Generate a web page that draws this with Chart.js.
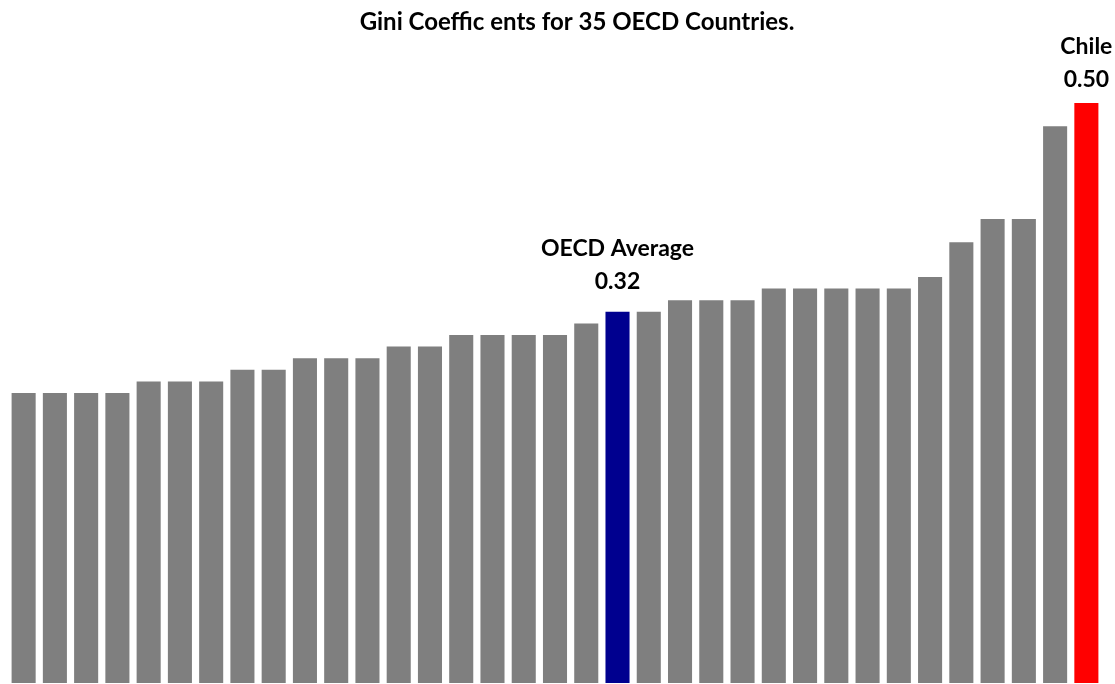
<!DOCTYPE html>
<html>
<head>
<meta charset="utf-8">
<script src="https://cdn.jsdelivr.net/npm/chart.js@4"></script>
<style>
  html, body { margin: 0; padding: 0; background: #fff; }
  #wrap { width: 1115px; height: 684px; }
</style>
</head>
<body>
<div id="wrap"><canvas id="c" width="1115" height="684"></canvas></div>
<script>
const chartTitle = 'Gini Coeffic ents for 35 OECD Countries.';
const categories = [
  'Country 1','Country 2','Country 3','Country 4','Country 5','Country 6','Country 7',
  'Country 8','Country 9','Country 10','Country 11','Country 12','Country 13','Country 14',
  'Country 15','Country 16','Country 17','Country 18','Country 19','OECD Average','Country 20',
  'Country 21','Country 22','Country 23','Country 24','Country 25','Country 26','Country 27',
  'Country 28','Country 29','Country 30','Country 31','Country 32','Country 33','Chile'
];
const giniValues = [
  0.25,0.25,0.25,0.25,0.26,0.26,0.26,
  0.27,0.27,0.28,0.28,0.28,0.29,0.29,
  0.30,0.30,0.30,0.30,0.31,0.32,0.32,
  0.33,0.33,0.33,0.34,0.34,0.34,0.34,
  0.34,0.35,0.38,0.40,0.40,0.48,0.50
];
const highlighted = ['OECD Average', 'Chile'];

const GRAY = '#7f7f7f', BLUE = '#00008f', RED = '#ff0000';
const barColors = categories.map(c => c === 'OECD Average' ? BLUE : (c === 'Chile' ? RED : GRAY));
const FONT = 'Lato, "Open Sans", sans-serif';

const labelPlugin = {
  id: 'highlightLabels',
  afterDatasetsDraw(chart) {
    const ctx = chart.ctx;
    const meta = chart.getDatasetMeta(0);
    ctx.save();
    ctx.fillStyle = '#000';
    ctx.textAlign = 'center';
    ctx.textBaseline = 'alphabetic';
    // title
    ctx.font = 'bold 24px ' + FONT;
    ctx.fillText(chartTitle, 577, 30);
    // highlighted bar labels
    ctx.font = 'bold 23px ' + FONT;
    highlighted.forEach(name => {
      const i = categories.indexOf(name);
      if (i < 0) return;
      const el = meta.data[i];
      const gap = name === 'Chile' ? 16 : 23;
      const base = el.y - gap;
      ctx.fillText(giniValues[i].toFixed(2), el.x, base);
      ctx.fillText(name, el.x, base - 33);
    });
    ctx.restore();
  }
};

new Chart(document.getElementById('c'), {
  type: 'bar',
  data: {
    labels: categories,
    datasets: [{
      data: giniValues,
      backgroundColor: barColors,
      borderWidth: 0,
      categoryPercentage: 1.0,
      barPercentage: 0.77
    }]
  },
  options: {
    responsive: false,
    animation: false,
    devicePixelRatio: 1,
    layout: { padding: { left: 8, right: 13, top: 45, bottom: 1 } },
    plugins: {
      legend: { display: false },
      tooltip: { enabled: false },
      title: { display: false }
    },
    scales: {
      x: { display: false },
      y: { display: false, min: 0, max: 0.55 }
    }
  },
  plugins: [labelPlugin]
});
</script>
</body>
</html>
